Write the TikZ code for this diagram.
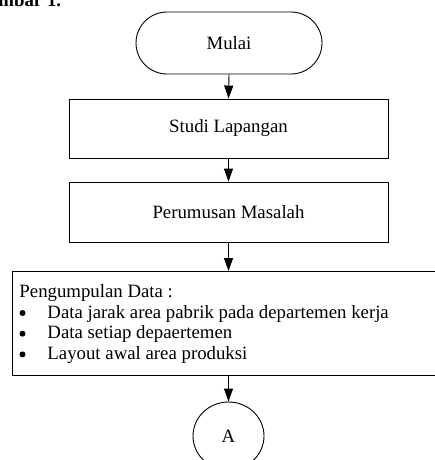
\documentclass[tikz,border=0pt]{standalone}
\usepackage{fontspec}
\setmainfont{Liberation Serif}
\usetikzlibrary{arrows.meta,shapes.geometric}
\begin{document}
\begin{tikzpicture}[x=1pt,y=-1pt,
  font=\fontsize{18.8}{20.7}\selectfont,
  line width=0.9pt,
  flowbox/.style={draw, rectangle, inner sep=0pt},
  arr/.style={draw, -{Triangle[length=13pt,width=9pt]}},
  txt/.style={inner sep=0pt, anchor=base west},
  bul/.style={circle, fill, inner sep=0pt, minimum size=6pt}]
\useasboundingbox (0,0) rectangle (434,460);
\node[txt, font=\fontsize{18.8}{20.7}\selectfont\bfseries] (title) at (-26,6.5) {Gambar 1.};
\node[flowbox, minimum width=186pt, minimum height=62pt, rounded corners=31pt] (mulai) at (229,43) {Mulai};
\node[flowbox, minimum width=319pt, minimum height=59pt] (studi) at (228.5,128.5) {Studi Lapangan};
\node[flowbox, minimum width=319pt, minimum height=60pt] (rumus) at (228.5,212) {Perumusan Masalah};
\node[flowbox, minimum width=440pt, minimum height=104pt] (kumpul) at (232,323) {};
\node[txt] (l0) at (19,297) {Pengumpulan Data :};
\node[bul] (b1) at (22.5,313) {};
\node[bul] (b2) at (22.5,333.7) {};
\node[bul] (b3) at (22.5,354.4) {};
\node[txt] (l1) at (47,318) {Data jarak area pabrik pada departemen kerja};
\node[txt] (l2) at (47,338.7) {Data setiap depaertemen};
\node[txt] (l3) at (47,359.4) {Layout awal area produksi};
\node[draw, ellipse, minimum width=71pt, minimum height=68pt, inner sep=0pt] (conA) at (228.5,436) {A};
\coordinate (kumpulTop) at (228.5,271);
\coordinate (kumpulBot) at (228.5,375);
\draw[arr] (mulai.south) -- (studi.north);
\draw[arr] (studi.south) -- (rumus.north);
\draw[arr] (rumus.south) -- (kumpulTop);
\draw[arr] (kumpulBot) -- (conA.north);
\end{tikzpicture}
\end{document}
